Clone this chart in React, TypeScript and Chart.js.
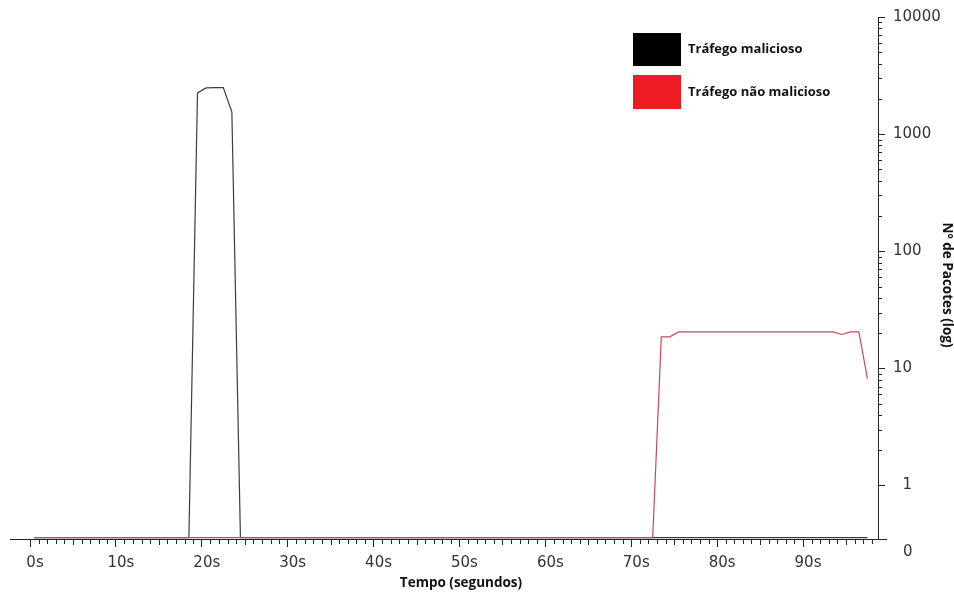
import React, { useEffect, useRef } from 'react';
import { Chart, registerables } from 'chart.js';

Chart.register(...registerables);

// ---- data ----
const maliciousTimes = [0.5, 18.5, 19.5, 20.5, 21.5, 22.5, 23.5, 24.5, 97.5];
const maliciousPackets = [0, 0, 2250, 2480, 2500, 2500, 1550, 0, 0];

const normalTimes = [0.5, 72.5, 73.5, 74.5, 75.5, 93.5, 94.5, 95.5, 96.5, 97.5];
const normalPackets = [0, 0, 18.6, 18.6, 20.5, 20.5, 19.5, 20.5, 20.5, 8.2];

const xTickValues = [0, 10, 20, 30, 40, 50, 60, 70, 80, 90];
const xTickLabels = ['0s', '10s', '20s', '30s', '40s', '50s', '60s', '70s', '80s', '90s'];
const yTickValues = [1, 10, 100, 1000, 10000];
const yTickLabels = ['  1', '10', '100', '1000', '10000'];
const yZeroLabel = '0';

const seriesLabels = ['Tráfego malicioso', 'Tráfego não malicioso'];
const xTitle = 'Tempo (segundos)';
const yTitle = 'Nº de Pacotes (log)';

// zero can't sit on a log axis: draw it on the floor just above the axis
const ZERO_FLOOR = 0.36;
const toPoints = (ts: number[], vs: number[]) =>
  ts.map((t, i) => ({ x: t, y: vs[i] > 0 ? vs[i] : ZERO_FLOOR }));

const AXIS = '#262626';
const TICK_TEXT = '#333333';

const decorPlugin = {
  id: 'decor',
  afterDraw(chart: any) {
    const { ctx, chartArea } = chart;
    const xs = chart.scales.x;
    const ys = chart.scales.y;
    ctx.save();
    ctx.strokeStyle = AXIS;
    ctx.lineWidth = 1;
    ctx.beginPath();
    // x minor ticks (every second, longer every 5 s)
    for (let s = 1; s <= 98; s++) {
      if (s % 10 === 0) continue;
      const px = Math.round(xs.getPixelForValue(s)) + 0.5;
      const len = s % 5 === 0 ? 6 : 5;
      ctx.moveTo(px, chartArea.bottom);
      ctx.lineTo(px, chartArea.bottom + len);
    }
    // y minor ticks
    for (let k = 0; k < 4; k++) {
      for (let d = 2; d <= 9; d++) {
        const py = Math.round(ys.getPixelForValue(d * Math.pow(10, k))) + 0.5;
        ctx.moveTo(chartArea.right, py);
        ctx.lineTo(chartArea.right + 4, py);
      }
    }
    // bottom tick (value 0)
    const by = Math.round(chartArea.bottom) + 0.5;
    ctx.moveTo(chartArea.right, by);
    ctx.lineTo(chartArea.right + 9, by);
    ctx.stroke();

    // "0" label under the axis
    ctx.fillStyle = TICK_TEXT;
    ctx.font = '15px "DejaVu Sans"';
    ctx.textAlign = 'left';
    ctx.textBaseline = 'middle';
    ctx.fillText(yZeroLabel, chartArea.right + 25, chartArea.bottom + 13);

    // axis titles
    ctx.fillStyle = '#111';
    ctx.font = 'bold 13.5px "Open Sans"';
    ctx.textAlign = 'center';
    ctx.textBaseline = 'middle';
    ctx.fillText(xTitle, 461, 583);
    ctx.save();
    ctx.translate(947, 285);
    ctx.rotate(Math.PI / 2);
    ctx.fillText(yTitle, 0, 0);
    ctx.restore();

    // legend
    const colors = ['#000000', '#ed1c24'];
    const boxes = [
      [633, 33, 48, 33],
      [633, 75, 48, 34],
    ];
    ctx.font = 'bold 13px "Open Sans"';
    ctx.textAlign = 'left';
    seriesLabels.forEach((lab, i) => {
      const [bx, by2, bw, bh] = boxes[i];
      ctx.fillStyle = colors[i];
      ctx.fillRect(bx, by2, bw, bh);
      ctx.fillStyle = '#111';
      ctx.fillText(lab, 688, by2 + bh / 2);
    });
    ctx.restore();
  },
};

export default function App() {
  const ref = useRef<HTMLCanvasElement | null>(null);

  useEffect(() => {
    if (!ref.current) return;
    const chart = new Chart(ref.current, {
      type: 'line',
      data: {
        datasets: [
          {
            label: seriesLabels[1],
            data: toPoints(normalTimes, normalPackets),
            borderColor: 'rgb(205, 70, 88)',
            borderWidth: 1.2,
            pointRadius: 0,
            tension: 0,
            fill: false,
          },
          {
            label: seriesLabels[0],
            data: toPoints(maliciousTimes, maliciousPackets),
            borderColor: 'rgba(40, 40, 40, 0.9)',
            borderWidth: 1.2,
            pointRadius: 0,
            tension: 0,
            fill: false,
          },
        ],
      },
      options: {
        animation: false,
        responsive: false,
        layout: { padding: { left: 10, top: 16, right: 0, bottom: 0 } },
        plugins: {
          legend: { display: false },
          tooltip: { enabled: false },
          title: { display: false },
        },
        scales: {
          x: {
            type: 'linear',
            min: -2.33,
            max: 98.73,
            afterBuildTicks: (s: any) => {
              s.ticks = xTickValues.map((v) => ({ value: v }));
            },
            afterFit: (s: any) => {
              s.height = 56;
            },
            ticks: {
              autoSkip: false,
              maxRotation: 0,
              color: TICK_TEXT,
              font: { family: 'DejaVu Sans', size: 15 },
              padding: 7,
              labelOffset: 5,
              callback: (_v: any, i: number) => xTickLabels[i],
            },
            grid: {
              display: true,
              drawOnChartArea: false,
              drawTicks: true,
              tickLength: 8,
              color: AXIS,
            },
            border: { display: true, color: AXIS, width: 1 },
          },
          y: {
            type: 'logarithmic',
            position: 'right',
            min: 0.35,
            max: 10000,
            afterBuildTicks: (s: any) => {
              s.ticks = yTickValues.map((v) => ({ value: v }));
            },
            afterFit: (s: any) => {
              s.width = 76;
            },
            ticks: {
              autoSkip: false,
              color: TICK_TEXT,
              font: { family: 'DejaVu Sans', size: 15 },
              padding: 8,
              callback: (_v: any, i: number) => yTickLabels[i],
            },
            grid: {
              display: true,
              drawOnChartArea: false,
              drawTicks: true,
              tickLength: 7,
              color: AXIS,
            },
            border: { display: true, color: AXIS, width: 1 },
          },
        },
      },
      plugins: [decorPlugin],
    });
    return () => chart.destroy();
  }, []);

  return (
    <div style={{ position: 'absolute', left: 0, top: 0, width: 954, height: 595, background: '#fff' }}>
      <canvas ref={ref} width={954} height={595} style={{ display: 'block' }} />
    </div>
  );
}
